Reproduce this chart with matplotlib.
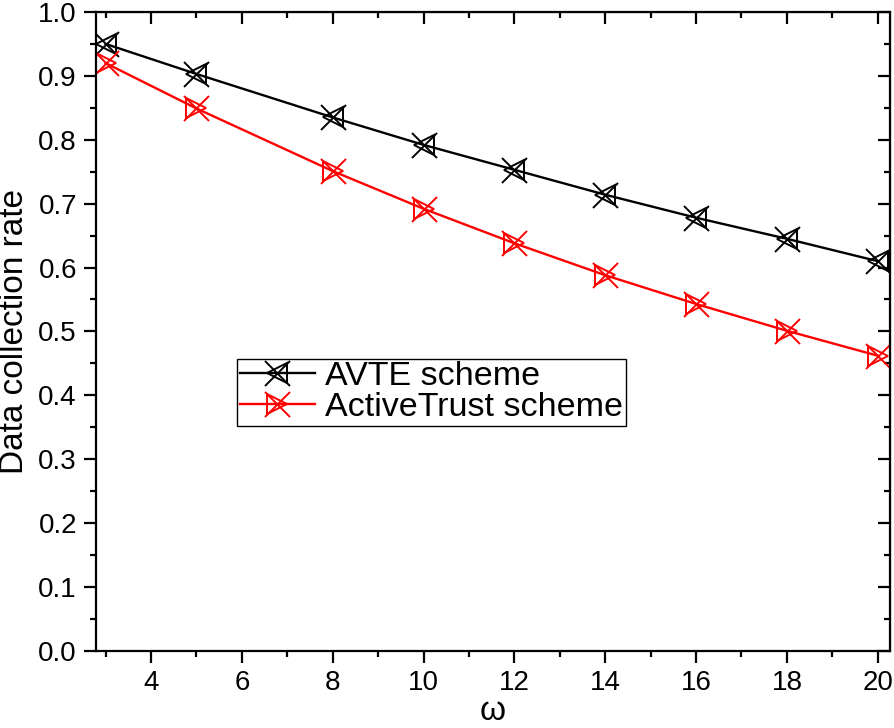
import matplotlib
matplotlib.use("Agg")
import matplotlib.pyplot as plt
from matplotlib.ticker import MultipleLocator, FormatStrFormatter
from matplotlib.legend_handler import HandlerTuple

plt.rcParams["font.family"] = ["Liberation Sans", "DejaVu Sans"]

# data
omega = [3, 5, 8, 10, 12, 14, 16, 18, 20]
avte = [0.950, 0.903, 0.835, 0.792, 0.753, 0.714, 0.678, 0.645, 0.610]
active_trust = [0.920, 0.849, 0.751, 0.692, 0.638, 0.588, 0.543, 0.501, 0.462]
series_names = ["AVTE scheme", "ActiveTrust scheme"]

fig = plt.figure(figsize=(8.94, 7.28), dpi=100)
ax = fig.add_axes([0.107, 0.106, 0.8885, 0.8775])

# each series: line with "x" markers plus an open triangle on top
handles = []
for vals, col, tri in [(avte, "black", "<"), (active_trust, "red", ">")]:
    l1, = ax.plot(omega, vals, color=col, lw=1.7, marker="x", ms=18, mew=1.4)
    l2, = ax.plot(omega, vals, color=col, lw=0, marker=tri, ms=15, mew=1.4,
                  mfc="none", mec=col)
    handles.append((l1, l2))

ax.set_xlim(2.78, 20.27)
ax.set_ylim(0, 1.0)
ax.xaxis.set_major_locator(MultipleLocator(2))
ax.xaxis.set_minor_locator(MultipleLocator(1))
ax.yaxis.set_major_locator(MultipleLocator(0.1))
ax.yaxis.set_minor_locator(MultipleLocator(0.05))
ax.yaxis.set_major_formatter(FormatStrFormatter("%.1f"))

for s in ax.spines.values():
    s.set_linewidth(1.6)
ax.tick_params(which="major", direction="out", length=8.5, width=1.6,
               labelsize=20, pad=5)
ax.tick_params(which="minor", direction="out", length=4.5, width=1.6)

# mirrored inward ticks on top and right
top = ax.secondary_xaxis("top")
top.xaxis.set_major_locator(MultipleLocator(2))
top.xaxis.set_minor_locator(MultipleLocator(1))
top.tick_params(which="major", direction="in", length=8.5, width=1.6, labeltop=False)
top.tick_params(which="minor", direction="in", length=4.5, width=1.6)
right = ax.secondary_yaxis("right")
right.yaxis.set_major_locator(MultipleLocator(0.1))
right.yaxis.set_minor_locator(MultipleLocator(0.05))
right.tick_params(which="major", direction="in", length=8.5, width=1.6, labelright=False)
right.tick_params(which="minor", direction="in", length=4.5, width=1.6)

ax.set_xlabel("ω", fontsize=24, labelpad=0)
ax.set_ylabel("Data collection rate", fontsize=24, labelpad=6)

leg = ax.legend(handles, series_names, handler_map={tuple: HandlerTuple(ndivide=1)},
                loc="lower left", bbox_to_anchor=(0.178, 0.352), borderaxespad=0,
                fontsize=24.5, frameon=True, fancybox=False, edgecolor="black",
                framealpha=1, handlelength=2.2, handletextpad=0.3,
                borderpad=0.08, labelspacing=0.0)
leg.get_frame().set_linewidth(1.0)

fig.savefig("out.png", dpi=100)
